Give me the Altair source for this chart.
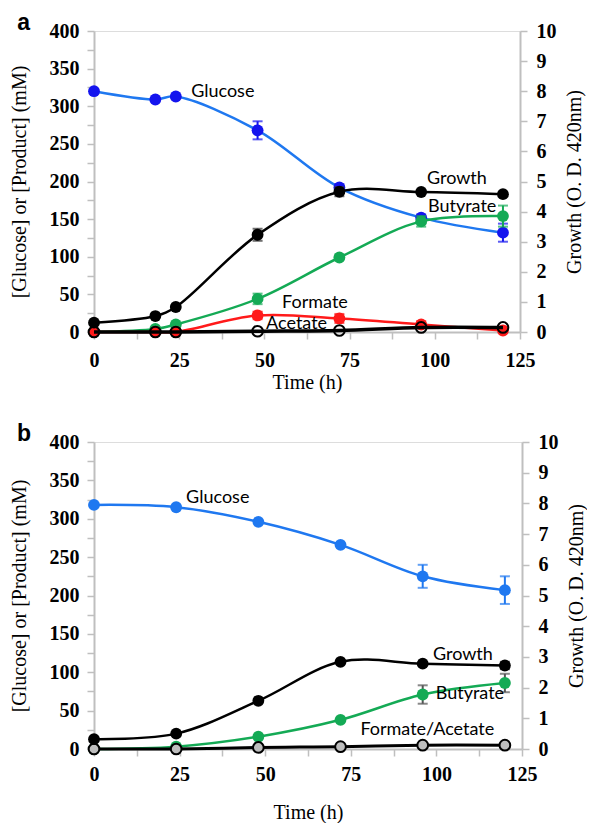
import altair as alt
import pandas as pd

# ---------------- Panel a ----------------
time_a = [0, 18, 24, 48, 72, 96, 120]
glucose_a = [320, 309, 313, 268, 192, 152, 132]
glucose_a_err = [0, 0, 0, 12, 4, 4, 12]
butyrate_a = [0, 4, 10, 44, 99, 147, 154]
butyrate_a_err = [0, 0, 0, 7, 0, 7, 14]
formate_a = [0, 0, 0, 22, 18, 10, 2]
formate_a_err = [0, 0, 0, 5, 6, 4, 0]
acetate_a = [0, 0, 0, 1, 2, 6, 6]
growth_a = [0.31, 0.53, 0.83, 3.23, 4.66, 4.65, 4.58]
growth_a_err = [0, 0, 0, 0.2, 0.15, 0, 0]

labels_a = ["a", "Glucose", "Growth", "Butyrate", "Formate", "Acetate"]
label_t_a = [-22.5, 28.5, 97.7, 98.0, 55.2, 50.5]
label_v_a = [401, 319, 203, 166, 38, 11]

# ---------------- Panel b ----------------
time_b = [0, 24, 48, 72, 96, 120]
glucose_b = [318, 315, 296, 266, 225, 207]
glucose_b_err = [0, 0, 0, 0, 15, 18]
butyrate_b = [0, 3, 16, 38, 71, 86]
butyrate_b_err = [0, 0, 0, 0, 12, 12]
formacet_b = [0, 0, 2, 3, 5, 5]
growth_b = [0.32, 0.50, 1.57, 2.84, 2.78, 2.72]
growth_b_err = [0, 0, 0, 0, 0, 0.12]

labels_b = ["b", "Glucose", "Growth", "Butyrate", "Formate/Acetate"]
label_t_b = [-22.5, 26.9, 99.0, 99.8, 77.8]
label_v_b = [401, 327, 123, 72, 25]

SERIF = "Liberation Serif"
LBL = "Lato"
GRAY = "#bfbfbf"
BLUE_LINE = "#1f78f0"
GREEN = "#14aa55"
RED = "#ff1a1a"


def make_x(pad, lpad):
    return alt.Axis(
        values=[i * 12.5 for i in range(11)], format="d",
        labelExpr="datum.value % 25 == 0 ? datum.label : ''",
        title="Time (h)", titleFont=SERIF, titleFontSize=20, titleFontWeight="normal",
        titleColor="black", titlePadding=pad,
        labelFont=SERIF, labelFontSize=20, labelFontWeight="bold", labelColor="black",
        labelPadding=lpad, labelOverlap=False, labelFlush=False,
        tickSize=7, tickColor=GRAY, tickWidth=1.5, domainColor=GRAY, domainWidth=2, grid=False)


def make_left():
    return alt.Axis(
        values=list(range(0, 401, 25)), format="d",
        labelExpr="datum.value % 50 == 0 ? datum.label : ''",
        title="[Glucose] or [Product] (mM)", titleFont=SERIF, titleFontSize=20,
        titleFontWeight="normal", titleColor="black", titlePadding=20,
        labelFont=SERIF, labelFontSize=20, labelFontWeight="bold", labelColor="black",
        labelPadding=8, labelOverlap=False, labelFlush=False,
        tickSize=7, tickColor=GRAY, tickWidth=1.5, domainColor=GRAY, domainWidth=2, grid=False)


def make_right(title):
    return alt.Axis(
        orient="right", format="d",
        values=[i * 0.5 for i in range(21)],
        labelExpr="datum.value % 1 == 0 ? datum.label : ''",
        title=title, titleFont=SERIF, titleFontSize=20, titleFontWeight="normal",
        titleColor="black", titlePadding=8, titleAngle=270, titleBaseline="top",
        labelFont=SERIF, labelFontSize=20, labelFontWeight="bold", labelColor="black",
        labelPadding=9, labelOverlap=False, labelFlush=False,
        tickSize=7, tickColor=GRAY, tickWidth=1.5, domainColor=GRAY, domainWidth=2, grid=False)


def panel(time, series, growth, growth_err, labels, lt, lv, w, h, right_title, xpad, lpad):
    xa = make_x(xpad, lpad)
    la = make_left()
    ra = make_right(right_title)
    X = alt.X("t:Q", scale=alt.Scale(domain=[0, 125], nice=False, zero=False), axis=xa)
    ysc = alt.Scale(domain=[0, 400], nice=False)
    gsc = alt.Scale(domain=[0, 10], nice=False)

    left_layers = []
    for s in series:
        df = pd.DataFrame({"t": time, "v": s["values"], "e": s.get("err", [0] * len(time))})
        df["lo"] = df["v"] - df["e"]
        df["hi"] = df["v"] + df["e"]
        dfe = df[df["e"] > 0]
        left_layers.append(
            alt.Chart(df).mark_line(color=s["line"], strokeWidth=s.get("lw", 2.5),
                                    interpolate="catmull-rom")
            .encode(x=X, y=alt.Y("v:Q", scale=ysc, axis=la)))
        if len(dfe):
            left_layers.append(
                alt.Chart(dfe).mark_rule(color=s["errc"], strokeWidth=2)
                .encode(x=X, y=alt.Y("lo:Q", scale=ysc, axis=la), y2="hi:Q"))
            for f in ["lo", "hi"]:
                left_layers.append(
                    alt.Chart(dfe).mark_tick(color=s["errc"], orient="horizontal", thickness=2, size=10)
                    .encode(x=X, y=alt.Y(f + ":Q", scale=ysc, axis=la)))
        if s.get("hollow"):
            pt = alt.Chart(df).mark_point(shape="circle", filled=True, fill=s["fill"],
                                          fillOpacity=s.get("fo", 1), stroke="black",
                                          strokeWidth=2, size=115, opacity=1)
        else:
            pt = alt.Chart(df).mark_point(shape="circle", filled=True, color=s["fill"],
                                          size=140, opacity=1)
        left_layers.append(pt.encode(x=X, y=alt.Y("v:Q", scale=ysc, axis=la)))

    ldf = pd.DataFrame({"t": lt[1:], "v": lv[1:], "label": labels[1:]})
    left_layers.append(
        alt.Chart(ldf).mark_text(align="left", baseline="middle", font=LBL, fontSize=18, color="black")
        .encode(x=X, y=alt.Y("v:Q", scale=ysc, axis=la), text="label:N"))
    pdf = pd.DataFrame({"t": lt[:1], "v": lv[:1], "label": labels[:1]})
    left_layers.append(
        alt.Chart(pdf).mark_text(align="left", baseline="alphabetic", font="Liberation Sans",
                                 fontSize=23, fontWeight="bold", color="black")
        .encode(x=X, y=alt.Y("v:Q", scale=ysc, axis=la), text="label:N"))

    gdf = pd.DataFrame({"t": time, "g": growth, "e": growth_err})
    gdf["lo"] = gdf["g"] - gdf["e"]
    gdf["hi"] = gdf["g"] + gdf["e"]
    gde = gdf[gdf["e"] > 0]
    right_layers = [
        alt.Chart(gdf).mark_line(color="black", strokeWidth=2.5, interpolate="catmull-rom")
        .encode(x=X, y=alt.Y("g:Q", scale=gsc, axis=ra)),
        alt.Chart(gde).mark_rule(color="#333333", strokeWidth=2)
        .encode(x=X, y=alt.Y("lo:Q", scale=gsc, axis=ra), y2="hi:Q"),
        alt.Chart(gde).mark_tick(color="#333333", orient="horizontal", thickness=2, size=10)
        .encode(x=X, y=alt.Y("lo:Q", scale=gsc, axis=ra)),
        alt.Chart(gde).mark_tick(color="#333333", orient="horizontal", thickness=2, size=10)
        .encode(x=X, y=alt.Y("hi:Q", scale=gsc, axis=ra)),
        alt.Chart(gdf).mark_point(shape="circle", filled=True, color="black", size=140, opacity=1)
        .encode(x=X, y=alt.Y("g:Q", scale=gsc, axis=ra)),
    ]

    return (alt.layer(alt.layer(*left_layers), alt.layer(*right_layers))
            .resolve_scale(y="independent")
            .properties(width=w, height=h))


series_a = [
    {"values": glucose_a, "err": glucose_a_err, "line": BLUE_LINE, "fill": "#1414ee", "errc": "#1414ee"},
    {"values": butyrate_a, "err": butyrate_a_err, "line": GREEN, "fill": GREEN, "errc": GREEN},
    {"values": formate_a, "err": formate_a_err, "line": RED, "fill": RED, "errc": RED},
    {"values": acetate_a, "line": "black", "lw": 3.5, "fill": "white", "fo": 0, "hollow": True, "errc": "black"},
]
series_b = [
    {"values": glucose_b, "err": glucose_b_err, "line": BLUE_LINE, "fill": BLUE_LINE, "errc": BLUE_LINE},
    {"values": butyrate_b, "err": butyrate_b_err, "line": GREEN, "fill": GREEN, "errc": "#555555"},
    {"values": formacet_b, "line": "black", "lw": 3, "fill": "#bdbdbd", "hollow": True, "errc": "black"},
]

pa = panel(time_a, series_a, growth_a, growth_a_err, labels_a, label_t_a, label_v_a,
           426, 301, "Growth  (O. D. 420nm)", 2, 11)
pb = panel(time_b, series_b, growth_b, growth_b_err, labels_b, label_t_b, label_v_b,
           428, 307, "Growth (O. D. 420nm)", 18, 8)

chart = (alt.vconcat(pa, pb, spacing=29)
         .properties(padding={"top": 3, "bottom": 0, "left": 0, "right": 0})
         .configure_view(stroke="black", strokeWidth=2)
         .configure(background="white"))

chart.save("out.html", embed_options={"renderer": "svg", "actions": False})
